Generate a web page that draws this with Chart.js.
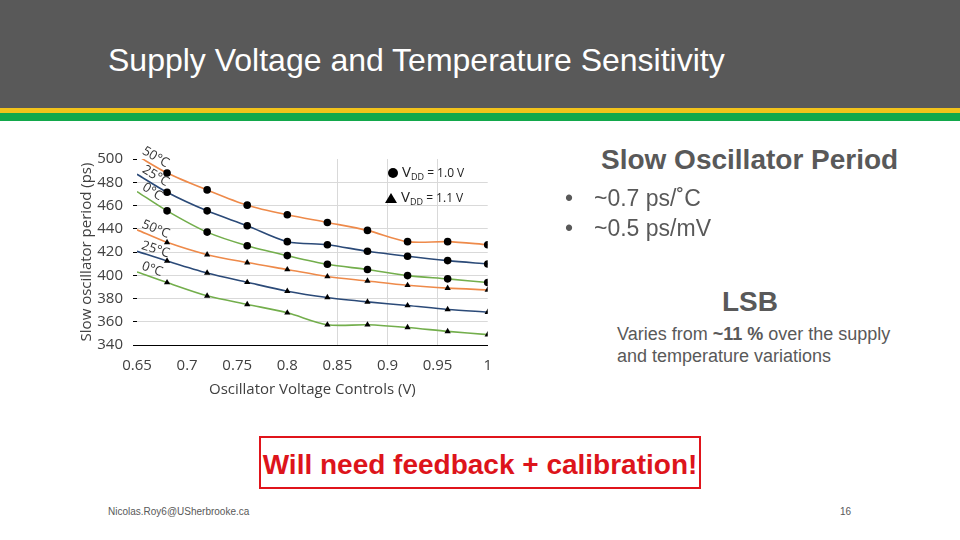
<!DOCTYPE html>
<html>
<head>
<meta charset="utf-8">
<script src="https://cdn.jsdelivr.net/npm/chart.js@4/dist/chart.umd.min.js"></script>
<style>
  html, body { margin:0; padding:0; background:#fff; }
  body { width:960px; height:540px; position:relative; overflow:hidden; font-family:"Liberation Sans", Arial, sans-serif; }
  .abs { position:absolute; white-space:nowrap; }
  #hdr { left:0; top:0; width:960px; height:108px; background:#595959; }
  #yel { left:0; top:108px; width:960px; height:5px; background:#F2C31B; }
  #grn { left:0; top:113px; width:960px; height:8px; background:#12A84B; }
  #title { left:108px; top:41px; font-size:32px; color:#fff; line-height:38px; }
  #chartBox { left:70px; top:140px; width:434px; height:270px; }
  .leg { font-family:"Open Sans", sans-serif; color:#222; font-size:12px; line-height:16px; }
  .leg .v { font-size:15px; }
  .leg sub { font-size:9px; vertical-align:-3px; }
  .sym { display:inline-block; margin-right:4px; }
  .gray { color:#595959; }
  .rbox { left:259px; top:436px; width:438px; height:49px; border:2px solid #E0141B; color:#DD141B; font-weight:bold; font-size:28px; text-align:center; line-height:54px; }
</style>
</head>
<body>
<div id="hdr" class="abs"></div>
<div id="yel" class="abs"></div>
<div id="grn" class="abs"></div>
<div id="title" class="abs">Supply Voltage and Temperature Sensitivity</div>

<div id="chartBox" class="abs"><canvas id="c" width="434" height="270"></canvas></div>

<div class="abs leg" style="left:388px; top:163px;"><span class="sym" style="width:10px;height:10px;border-radius:50%;background:#000;vertical-align:-1px;"></span><span class="v">V</span><sub>DD</sub> = 1.0 V</div>
<div class="abs leg" style="left:385px; top:188px;"><span class="sym" style="width:0;height:0;border-left:6px solid transparent;border-right:6px solid transparent;border-bottom:10px solid #000;vertical-align:-1px;"></span><span class="v">V</span><sub>DD</sub> = 1.1 V</div>

<div class="abs gray" style="left:601px; top:143px; font-size:28px; font-weight:bold; line-height:34px;">Slow Oscillator Period</div>
<div class="abs gray" style="left:565px; top:184px; font-size:23px; line-height:28px;">•</div>
<div class="abs gray" style="left:594px; top:184px; font-size:23px; line-height:28px;">~0.7 ps/˚C</div>
<div class="abs gray" style="left:565px; top:214px; font-size:23px; line-height:28px;">•</div>
<div class="abs gray" style="left:594px; top:214px; font-size:23px; line-height:28px;">~0.5 ps/mV</div>
<div class="abs gray" style="left:722px; top:285px; font-size:28px; font-weight:bold; line-height:34px;">LSB</div>
<div class="abs gray" style="left:617px; top:323px; font-size:18px; line-height:22px;">Varies from <b>~11 %</b> over the supply</div>
<div class="abs gray" style="left:617px; top:345px; font-size:18px; line-height:22px;">and temperature variations</div>

<div class="abs rbox">Will need feedback + calibration!</div>

<div class="abs gray" style="left:108px; top:506px; font-size:10px;">Nicolas.Roy6@USherbrooke.ca</div>
<div class="abs gray" style="left:840px; top:506px; font-size:10px;">16</div>

<script>
// Oscillator voltage control (V); first entry is where the smoothed curve starts (no marker)
const xValues = [0.65, 0.68, 0.72, 0.76, 0.80, 0.84, 0.88, 0.92, 0.96, 1.00];
// VDD = 1.0 V (circles)
const vdd10_50C = [502.9, 488.0, 473.4, 460.3, 452.0, 445.4, 438.6, 428.9, 428.9, 426.3];
const vdd10_25C = [486.9, 471.4, 455.4, 442.6, 428.9, 426.3, 420.6, 416.3, 412.6, 409.7];
const vdd10_0C  = [472.0, 455.4, 437.1, 425.4, 416.9, 409.4, 404.9, 399.7, 396.9, 393.7];
// VDD = 1.1 V (triangles)
const vdd11_50C = [439.1, 428.3, 417.7, 410.9, 404.9, 398.9, 395.1, 391.4, 388.9, 387.4];
const vdd11_25C = [420.6, 412.3, 402.0, 394.0, 386.3, 380.9, 377.1, 374.0, 370.6, 368.3];
const vdd11_0C  = [402.9, 393.7, 382.3, 374.9, 367.7, 357.4, 357.4, 355.1, 351.7, 348.9];
const xTicks = [0.65, 0.7, 0.75, 0.8, 0.85, 0.9, 0.95, 1];
const xTickLabels = ['0.65', '0.7', '0.75', '0.8', '0.85', '0.9', '0.95', '1'];
const yTicks = [340, 360, 380, 400, 420, 440, 460, 480, 500];
const tempLabels = ['50°C', '25°C', '0°C'];

const ORANGE = '#EE8A4A', BLUE = '#2B4A78', GREEN = '#73AE4C';

function mk(vals, color, label, style, r) {
  return {
    label: label,
    data: xValues.map((x, i) => ({x: x, y: vals[i]})),
    showLine: true,
    borderColor: color,
    borderWidth: 1.6,
    tension: 0.3,
    pointStyle: style,
    pointRadius: xValues.map((x, i) => i === 0 ? 0 : r),
    pointBackgroundColor: '#000',
    pointBorderColor: '#000',
    pointBorderWidth: 0,
    tempLabel: label
  };
}

const datasets = [
  mk(vdd10_50C, ORANGE, tempLabels[0], 'circle', 3.8),
  mk(vdd10_25C, BLUE, tempLabels[1], 'circle', 3.8),
  mk(vdd10_0C, GREEN, tempLabels[2], 'circle', 3.8),
  mk(vdd11_50C, ORANGE, tempLabels[0], 'triangle', 3.6),
  mk(vdd11_25C, BLUE, tempLabels[1], 'triangle', 3.6),
  mk(vdd11_0C, GREEN, tempLabels[2], 'triangle', 3.6)
];

const curveLabels = {
  id: 'curveLabels',
  afterDatasetsDraw(chart) {
    const ctx = chart.ctx;
    chart.data.datasets.forEach((ds, di) => {
      const meta = chart.getDatasetMeta(di);
      const p0 = meta.data[0], p1 = meta.data[1];
      const ang = Math.atan2(p1.y - p0.y, p1.x - p0.x);
      ctx.save();
      ctx.translate(p0.x + 3, p0.y);
      ctx.rotate(ang);
      ctx.font = '13px "Open Sans", sans-serif';
      ctx.fillStyle = '#333';
      ctx.textBaseline = 'bottom';
      ctx.textAlign = 'left';
      ctx.fillText(ds.tempLabel, 0, 0);
      ctx.restore();
    });
  }
};

new Chart(document.getElementById('c'), {
  type: 'scatter',
  data: { datasets: datasets },
  options: {
    responsive: false,
    animation: false,
    layout: { padding: { top: 19, right: 5, left: 0, bottom: 0 } },
    plugins: { legend: { display: false }, tooltip: { enabled: false } },
    scales: {
      x: {
        type: 'linear', min: 0.65, max: 1,
        afterBuildTicks: s => { s.ticks = xTicks.map(v => ({value: v})); },
        afterFit: s => { s.height = 65; },
        grid: {
          drawTicks: false,
          color: c => (c.tick && c.tick.value >= 0.84 && c.tick.value < 0.99) ? '#d9d9d9' : 'rgba(0,0,0,0)'
        },
        border: { display: true, color: '#000', width: 1 },
        ticks: {
          padding: 12, color: '#404040', font: { family: 'Open Sans', size: 15 }, maxRotation: 0, autoSkip: false,
          callback: (v, i) => xTickLabels[i]
        },
        title: { display: true, text: 'Oscillator Voltage Controls (V)', color: '#404040',
                 font: { family: 'Open Sans', size: 15 }, padding: { top: 0, bottom: 11 } }
      },
      y: {
        min: 340, max: 500,
        afterBuildTicks: s => { s.ticks = yTicks.map(v => ({value: v})); },
        afterFit: s => { s.width = 67; },
        grid: {
          drawTicks: true, tickLength: 4, tickColor: '#000',
          color: c => (c.tick && c.tick.value > 340 && c.tick.value < 500) ? '#d9d9d9' : 'rgba(0,0,0,0)'
        },
        border: { display: false },
        ticks: { padding: 10, color: '#404040', font: { family: 'Open Sans', size: 15 } },
        title: { display: true, text: 'Slow oscillator period (ps)', color: '#404040',
                 font: { family: 'Open Sans', size: 15 }, padding: { top: 8, bottom: 0 } }
      }
    }
  },
  plugins: [curveLabels]
});
</script>
</body>
</html>
